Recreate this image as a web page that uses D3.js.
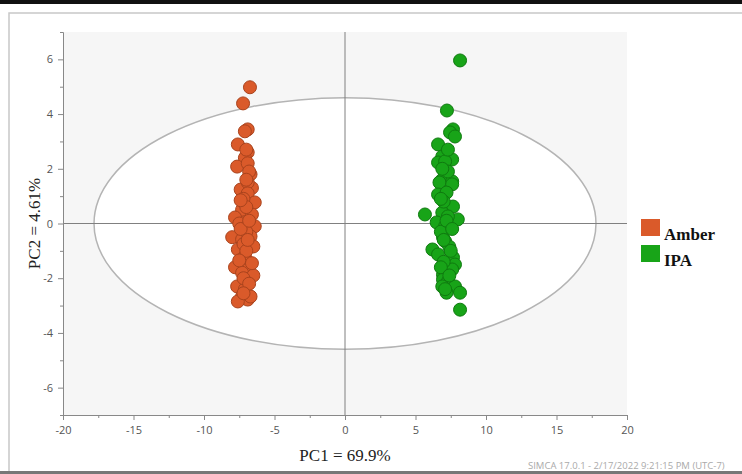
<!DOCTYPE html>
<html>
<head>
<meta charset="utf-8">
<script src="https://cdn.jsdelivr.net/npm/d3@7"></script>
<style>
  html, body { margin: 0; padding: 0; background: #fff; }
  svg { display: block; }
</style>
</head>
<body>
<svg id="chart" width="742" height="474"></svg>
<script>
// PCA score plot: PC1 vs PC2 for two beer styles
const groups = ["Amber", "IPA"];
const groupColors = ["#da5a2a", "#18a418"];
const groupStrokes = ["#a9431d", "#0f7a0f"];

const amberPC1 = [-6.74,-7.23,-6.9,-7.1,-7.6,-6.9,-7.1,-7.65,-6.9,-6.7,-7.4,-6.6,-6.9,
  -6.9,-6.4,-7.3,-6.6,-7.8,-7.1,-6.4,-8.0,-7.3,-6.7,-6.5,-7.6,-7.1,-6.95,-7.8,-6.9,-7.3,
  -6.5,-7.65,-7.1,-7.3,-6.9,-7.6,-6.7,-7.2,-7.0,-6.8,-7.5,-7.0,-7.4,-6.8,-7.2,-7.0,-6.6,
  -7.5,-7.2,-6.8,-7.0,-7.4,-6.9,-7.2,-7.0];
const amberPC2 = [4.98,4.39,3.44,3.37,2.89,2.6,2.4,2.08,2.2,1.8,1.24,1.3,1.5,
  1.1,0.77,0.5,0.33,0.22,0.04,-0.1,-0.5,-0.58,-0.47,-0.84,-0.95,-1.2,-1.39,-1.6,-1.68,-1.8,
  -1.9,-2.3,-2.4,-2.67,-2.78,-2.85,-2.67,0.9,0.6,1.9,0.0,-0.3,-0.2,0.1,-0.75,-1.0,-1.45,
  -1.35,-2.0,-2.2,2.7,0.85,-0.6,-2.55,1.6];

const ipaPC1 = [8.16,7.23,7.66,7.45,7.8,6.6,6.9,7.6,6.6,7.1,6.9,7.6,
  6.7,7.6,6.6,7.2,7.66,5.67,6.9,8.0,6.5,7.1,7.3,6.95,7.1,6.2,6.6,7.66,7.8,7.6,6.95,6.95,
  7.3,6.9,7.8,7.2,8.16,8.16,7.0,7.3,6.8,7.4,7.0,7.5,6.9,7.2,7.6,6.8,7.1,7.4,7.3,7.0,6.8];
const ipaPC2 = [5.96,4.13,3.44,3.33,3.18,2.89,2.45,2.34,2.23,2.27,1.6,1.54,
  1.5,1.43,1.06,1.13,0.62,0.33,0.4,0.15,0.04,-0.1,0.26,-0.5,-0.65,-0.95,-1.13,-1.24,-1.5,
  -1.68,-1.87,-2.05,-2.12,-2.3,-2.3,-2.53,-2.53,-3.15,0.8,1.9,-0.3,-0.85,-1.4,-1.0,2.0,
  0.1,-0.2,-1.6,-2.4,-1.9,2.7,-0.6,0.9];

const xTicks = [-20,-15,-10,-5,0,5,10,15,20];
const yTicks = [-6,-4,-2,0,2,4,6];
const xLabel = "PC1 = 69.9%";
const yLabel = "PC2 = 4.61%";
const footer = "SIMCA 17.0.1 - 2/17/2022 9:21:15 PM (UTC-7)";
// Hotelling T2 ellipse semi-axes in score units
const ellipseRx = 17.8, ellipseRy = 4.6;

const svg = d3.select("#chart");
const W = 742, H = 474;

// page frame
svg.append("rect").attr("x", 0).attr("y", 0).attr("width", W).attr("height", 4).attr("fill", "#111");
svg.append("rect").attr("x", 9).attr("y", 13).attr("width", W).attr("height", 460)
  .attr("fill", "#fff").attr("stroke", "#c8c8c8").attr("stroke-width", 1.5);
svg.append("rect").attr("x", 0).attr("y", 471).attr("width", W).attr("height", 3).attr("fill", "#777");

const x = d3.scaleLinear().domain([-20, 20]).range([63, 627]);
const y = d3.scaleLinear().domain([-7, 7]).range([415, 32]);

// plot background
svg.append("rect").attr("x", x(-20)).attr("y", y(7))
  .attr("width", x(20) - x(-20)).attr("height", y(-7) - y(7)).attr("fill", "#f6f6f6");

// confidence ellipse
svg.append("ellipse")
  .attr("cx", x(0)).attr("cy", y(0))
  .attr("rx", x(ellipseRx) - x(0)).attr("ry", y(0) - y(ellipseRy))
  .attr("fill", "#fff").attr("stroke", "#b4b4b4").attr("stroke-width", 1.5);

// zero lines
svg.append("line").attr("x1", x(-20)).attr("x2", x(20)).attr("y1", y(0)).attr("y2", y(0))
  .attr("stroke", "#808080").attr("stroke-width", 1);
svg.append("line").attr("x1", x(0)).attr("x2", x(0)).attr("y1", y(7)).attr("y2", y(-7))
  .attr("stroke", "#808080").attr("stroke-width", 1);

// axes (plain hyphen for negatives)
const fmt = d => String(d);
const tickFont = "'Open Sans', 'DejaVu Sans', sans-serif";
const xAxis = svg.append("g").attr("transform", `translate(0,${y(-7)})`)
  .call(d3.axisBottom(x).tickValues(xTicks).tickFormat(fmt).tickSize(5).tickSizeOuter(0).tickPadding(6));
const xMinor = svg.append("g").attr("transform", `translate(0,${y(-7)})`)
  .call(d3.axisBottom(x).tickValues(d3.range(-17.5, 20, 5)).tickSize(3).tickFormat("").tickSizeOuter(0));
const yAxis = svg.append("g").attr("transform", `translate(${x(-20)},0)`)
  .call(d3.axisLeft(y).tickValues(yTicks).tickFormat(fmt).tickSize(5).tickSizeOuter(0).tickPadding(5));
const yMinor = svg.append("g").attr("transform", `translate(${x(-20)},0)`)
  .call(d3.axisLeft(y).tickValues([-7,-5,-3,-1,1,3,5,7]).tickSize(3).tickFormat("").tickSizeOuter(0));
[xAxis, xMinor, yAxis, yMinor].forEach(g => {
  g.selectAll(".domain").attr("stroke", "#888");
  g.selectAll(".tick line").attr("stroke", "#888");
  g.selectAll("text").attr("fill", "#555").style("font-family", tickFont).style("font-size", "11px");
});

// scores
function drawGroup(px, py, i) {
  svg.append("g").selectAll("circle")
    .data(d3.zip(px, py))
    .join("circle")
    .attr("cx", d => x(d[0])).attr("cy", d => y(d[1]))
    .attr("r", 6.5)
    .attr("fill", groupColors[i])
    .attr("stroke", groupStrokes[i])
    .attr("stroke-width", 1);
}
drawGroup(amberPC1, amberPC2, 0);
drawGroup(ipaPC1, ipaPC2, 1);

// axis titles
const serif = "'Liberation Serif', 'Times New Roman', serif";
svg.append("text").attr("x", x(0)).attr("y", 461).attr("text-anchor", "middle")
  .style("font-family", serif).style("font-size", "17px").attr("fill", "#222").text(xLabel);
svg.append("text").attr("transform", `translate(40,${y(0)}) rotate(-90)`).attr("text-anchor", "middle")
  .style("font-family", serif).style("font-size", "17px").attr("fill", "#222").text(yLabel);

// legend
const legend = svg.append("g");
groups.forEach((g, i) => {
  legend.append("rect").attr("x", 641).attr("y", 219 + i * 26).attr("width", 19).attr("height", 17)
    .attr("fill", groupColors[i]);
  legend.append("text").attr("x", 664).attr("y", 240 + i * 26)
    .style("font-family", serif).style("font-size", "17px").style("font-weight", "bold")
    .attr("fill", "#111").text(g);
});

// software footer
svg.append("text").attr("x", 528).attr("y", 469)
  .style("font-family", tickFont).style("font-size", "9.5px").attr("fill", "#aaa").text(footer);
</script>
</body>
</html>
